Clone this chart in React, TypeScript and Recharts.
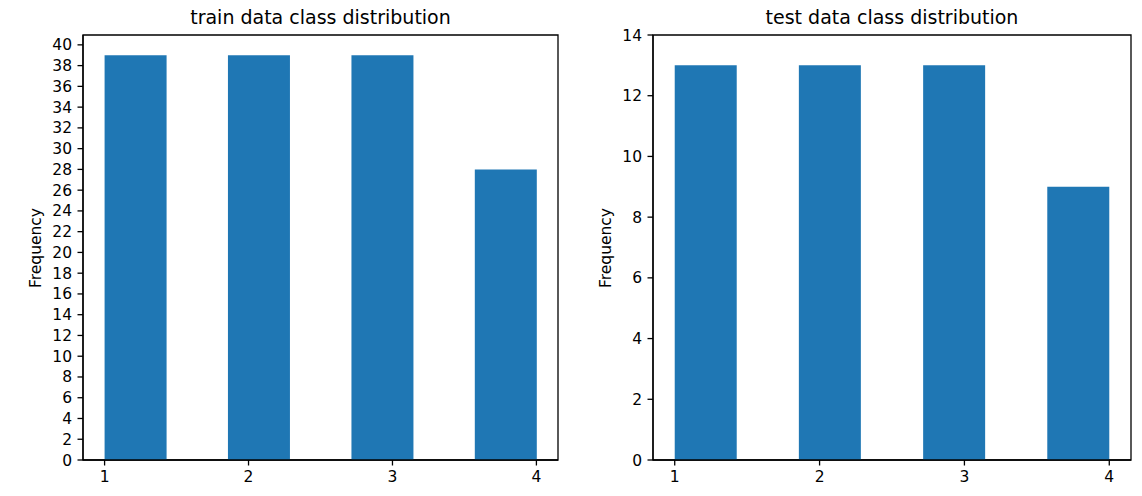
import React from 'react';
import { BarChart, Bar, XAxis, YAxis, ReferenceArea } from 'recharts';

// 7-bin histograms over classes 1..4
const binCenters = [1.214, 1.643, 2.071, 2.5, 2.929, 3.357, 3.786];
const trainCounts = [39, 0, 39, 0, 39, 0, 28];
const testCounts = [13, 0, 13, 0, 13, 0, 9];

const xTicks = [1, 2, 3, 4];
const trainYTicks = [0, 2, 4, 6, 8, 10, 12, 14, 16, 18, 20, 22, 24, 26, 28, 30, 32, 34, 36, 38, 40];
const testYTicks = [0, 2, 4, 6, 8, 10, 12, 14];

const font = '"DejaVu Sans", sans-serif';
const ink = '#000';
const barColor = '#1f77b4';

type PanelProps = {
  left: number;
  width: number;
  title: string;
  counts: number[];
  yTicks: number[];
  yMax: number;
  rightMargin: number;
};

function Panel({ left, width, title, counts, yTicks, yMax, rightMargin }: PanelProps) {
  const data = binCenters.map((x, i) => ({ x, count: counts[i] }));
  const plotLeft = 83;
  const plotRight = width - rightMargin;
  const cx = (plotLeft + plotRight) / 2;
  const tickStyle = { fill: ink, fontSize: 15.5, fontFamily: font };
  return (
    <div style={{ position: 'absolute', left, top: 0, width, height: 496 }}>
      <div
        style={{
          position: 'absolute', left: cx, top: 8, transform: 'translateX(-50%)',
          fontFamily: font, fontSize: 19, lineHeight: '19px', color: ink, whiteSpace: 'nowrap',
        }}
      >
        {title}
      </div>
      <div
        style={{
          position: 'absolute', left: 36, top: 247.5,
          transform: 'translate(-50%, -50%) rotate(-90deg)',
          fontFamily: font, fontSize: 15.5, lineHeight: '16px', color: ink, whiteSpace: 'nowrap',
        }}
      >
        Frequency
      </div>
      <BarChart
        width={width}
        height={496}
        data={data}
        margin={{ top: 35, right: rightMargin, bottom: 10, left: 0 }}
        barCategoryGap="0%"
        barGap={0}
      >
        <XAxis
          dataKey="x"
          type="number"
          domain={[0.85, 4.15]}
          ticks={xTicks}
          interval={0}
          allowDataOverflow
          height={26}
          tick={tickStyle}
          tickSize={5.5}
          tickMargin={5}
          stroke={ink}
          strokeWidth={1.3}
        />
        <YAxis
          type="number"
          domain={[0, yMax]}
          ticks={yTicks}
          interval={0}
          allowDataOverflow
          width={83}
          tick={tickStyle}
          tickSize={5.5}
          tickMargin={5.5}
          stroke={ink}
          strokeWidth={1.3}
        />
        <Bar dataKey="count" fill={barColor} isAnimationActive={false} />
        <ReferenceArea
          x1={0.85}
          x2={4.15}
          y1={0}
          y2={yMax}
          fill="none"
          stroke={ink}
          strokeWidth={1.3}
          fillOpacity={0}
        />
      </BarChart>
    </div>
  );
}

export default function App() {
  return (
    <div style={{ position: 'fixed', left: 0, top: 0, width: 1142, height: 496, background: '#fff' }}>
      <Panel
        left={0}
        width={570}
        title="train data class distribution"
        counts={trainCounts}
        yTicks={trainYTicks}
        yMax={40.95}
        rightMargin={12}
      />
      <Panel
        left={570}
        width={572}
        title="test data class distribution"
        counts={testCounts}
        yTicks={testYTicks}
        yMax={14}
        rightMargin={11}
      />
    </div>
  );
}
